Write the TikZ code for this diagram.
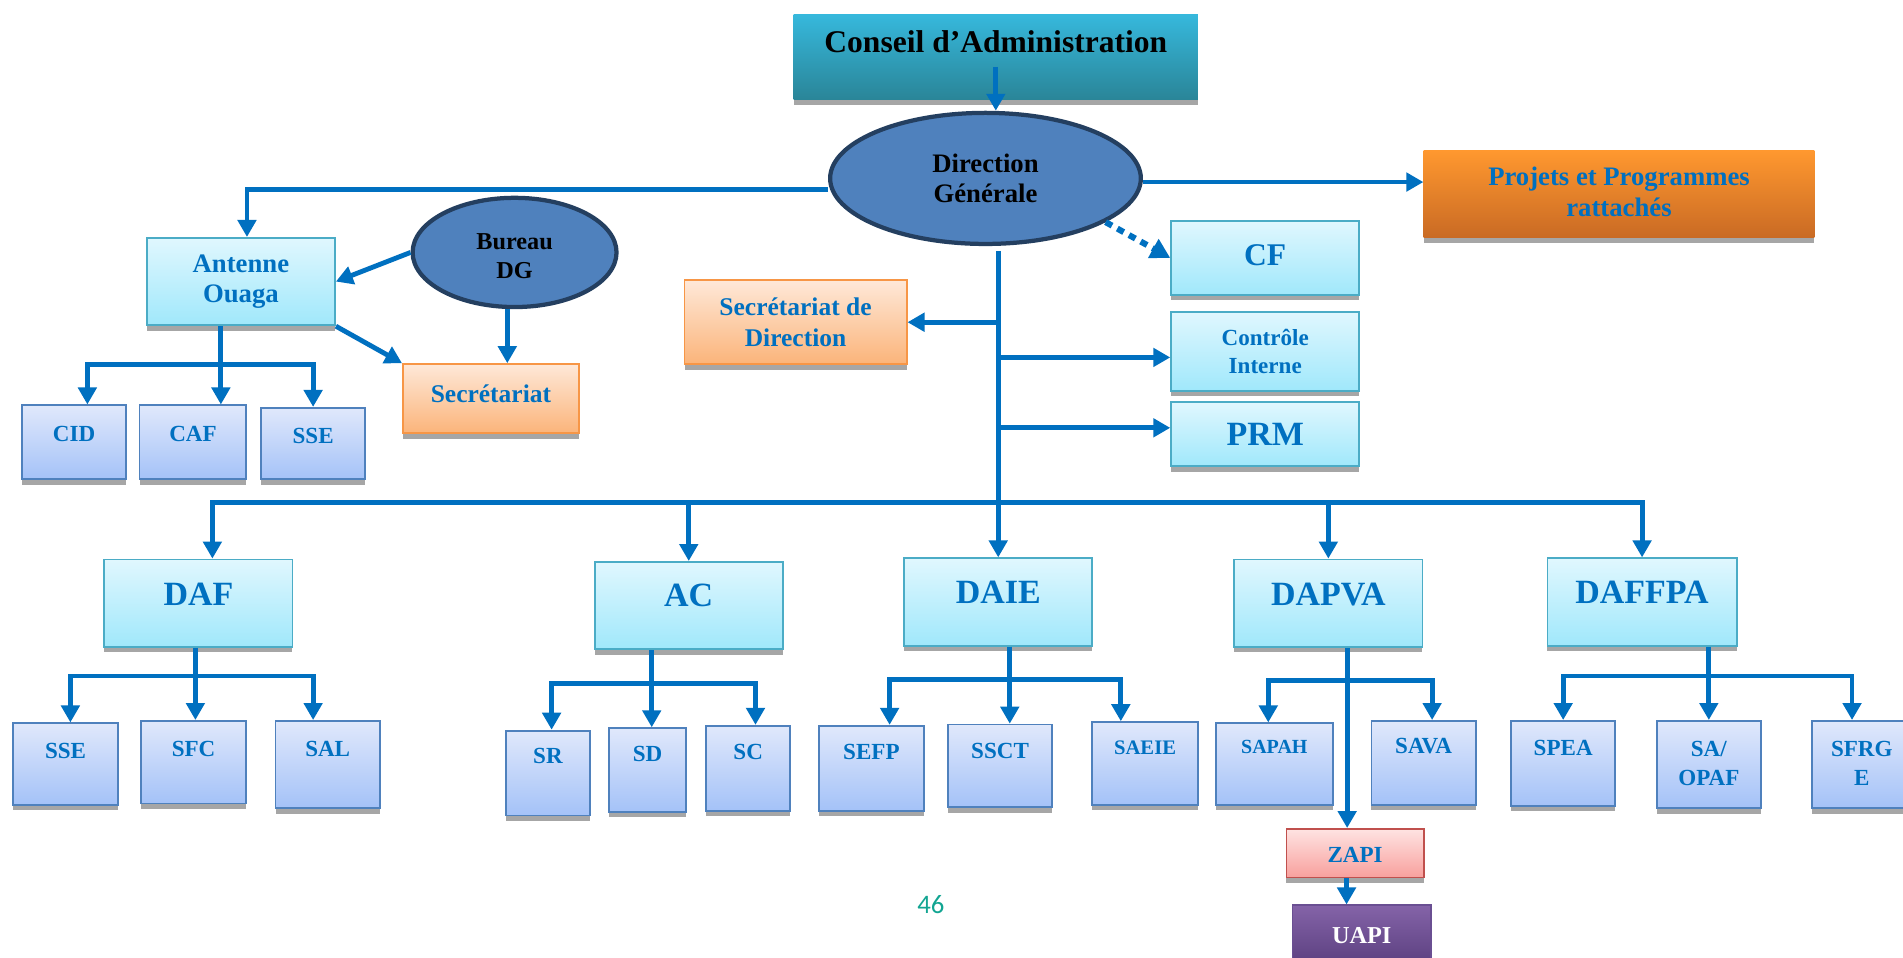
\documentclass[tikz,border=0pt]{standalone}
\usepackage{fontspec}
\setmainfont{Liberation Serif}
\newfontfamily\pgnumfont{Carlito}
\usetikzlibrary{arrows.meta,shadows,shapes.geometric,calc}
\definecolor{lb}{HTML}{0070C0}
\definecolor{shgray}{HTML}{A6A6A6}
\definecolor{cyanB}{HTML}{4BACC6}
\definecolor{cyanT}{HTML}{E0F7FE}
\definecolor{cyanD}{HTML}{A0E8FB}
\definecolor{blueB}{HTML}{4F81BD}
\definecolor{blueT}{HTML}{E0E8FB}
\definecolor{blueD}{HTML}{A4C2F8}
\definecolor{orB}{HTML}{F79646}
\definecolor{orT}{HTML}{FEE8D8}
\definecolor{orD}{HTML}{FBB47A}
\definecolor{redB}{HTML}{C0504D}
\definecolor{redT}{HTML}{FEE3E2}
\definecolor{redD}{HTML}{F8A09D}
\definecolor{purT}{HTML}{8463A8}
\definecolor{purD}{HTML}{5E4282}
\definecolor{purB}{HTML}{6A4F92}
\definecolor{tealT}{HTML}{36B8DC}
\definecolor{tealD}{HTML}{2A8598}
\definecolor{projT}{HTML}{FF982F}
\definecolor{projD}{HTML}{C96A24}
\definecolor{ovF}{HTML}{4F81BD}
\definecolor{ovB}{HTML}{243F60}
\definecolor{numcol}{HTML}{12A592}

\newcommand\bx[9]{%
  \node[#1, minimum width={(#5-#3)*1pt}, minimum height={(#6-#4)*1pt}] (#2) at ({(#3+#5)/2},{(#4+#6)/2}) {};
  \node[txt,#8] (#2-t) at ([yshift=#7pt]#2.center) {#9};}

\begin{document}
\begin{tikzpicture}[x=1pt,y=-1pt,
  ln/.style={draw=lb, line width=4pt},
  arr/.style={ln, -{Triangle[length=14pt,width=15pt]}},
  dotarr/.style={draw=lb, line width=5pt, dash pattern=on 6pt off 5pt, -{Triangle[length=16pt,width=17pt]}},
  shd/.style={general shadow={fill=shgray, shadow yshift=-4.5pt}},
  boxbase/.style={shd, line width=1.5pt, inner sep=0pt},
  cyanbox/.style={boxbase, draw=cyanB, top color=cyanT, bottom color=cyanD},
  bluebox/.style={boxbase, draw=blueB, top color=blueT, bottom color=blueD},
  orbox/.style={boxbase, draw=orB, top color=orT, bottom color=orD},
  redbox/.style={boxbase, draw=redB, top color=redT, bottom color=redD},
  purbox/.style={boxbase, draw=purB, top color=purT, bottom color=purD},
  tealbox/.style={shd, inner sep=0pt, top color=tealT, bottom color=tealD},
  projbox/.style={shd, inner sep=0pt, top color=projT, bottom color=projD},
  oval/.style={ellipse, draw=ovB, fill=ovF, line width=3.5pt, inner sep=0pt},
  txt/.style={text=lb, align=center, inner sep=0pt},
  fz/.style 2 args={font=\bfseries\fontsize{#1}{#2}\selectfont},
]
\fill[white] (0,0) rectangle (1568,789);
\useasboundingbox (0,0) rectangle (1568,789);

\bx{tealbox}{ca}{654}{12}{987}{82}{13}{fz={26}{28}, text=black}{Conseil d’Administration}
\bx{oval}{dg}{684}{93}{940}{201}{0}{fz={22}{25}, text=black}{Direction\\Générale}
\bx{projbox}{proj}{1173}{124}{1495}{196}{2}{fz={22}{25}}{Projets et Programmes\\rattachés}
\bx{cyanbox}{cf}{965}{182}{1120}{243}{2}{fz={26}{28}}{CF}
\bx{cyanbox}{ctrl}{965}{257}{1120}{322}{0}{fz={19}{23}}{Contrôle\\Interne}
\bx{cyanbox}{prm}{965}{331}{1120}{384}{0}{fz={28}{30}}{PRM}
\bx{orbox}{secdir}{564}{231}{747}{300}{0}{fz={21}{25}}{Secrétariat de\\Direction}
\bx{oval}{bur}{340}{163}{508}{253}{-3}{fz={20}{24}, text=black}{Bureau\\DG}
\bx{cyanbox}{ant}{121}{196}{276}{268}{0}{fz={22}{25}}{Antenne\\Ouaga}
\bx{orbox}{sec}{332}{300}{477}{357}{4}{fz={21}{24}}{Secrétariat}
\bx{bluebox}{cid}{18}{334}{104}{395}{7}{fz={19}{22}}{CID}
\bx{bluebox}{caf}{115}{334}{203}{395}{7}{fz={19}{22}}{CAF}
\bx{bluebox}{ssea}{215}{336}{301}{395}{6}{fz={19}{22}}{SSE}
\bx{cyanbox}{daf}{86}{461}{241}{533}{7}{fz={28}{30}}{DAF}
\bx{cyanbox}{ac}{490}{463}{645}{535}{8}{fz={28}{30}}{AC}
\bx{cyanbox}{daie}{745}{460}{900}{532}{8}{fz={28}{30}}{DAIE}
\bx{cyanbox}{dapva}{1017}{461}{1172}{533}{7}{fz={28}{30}}{DAPVA}
\bx{cyanbox}{daffpa}{1275}{460}{1431}{532}{8}{fz={28}{30}}{DAFFPA}
\bx{bluebox}{sse}{11}{596}{97}{663}{11}{fz={19}{22}}{SSE}
\bx{bluebox}{sfc}{116}{594}{203}{662}{11}{fz={19}{22}}{SFC}
\bx{bluebox}{sal}{227}{594}{313}{666}{13}{fz={19}{22}}{SAL}
\bx{bluebox}{sr}{417}{602}{486}{672}{14}{fz={19}{22}}{SR}
\bx{bluebox}{sd}{502}{600}{565}{669}{13}{fz={19}{22}}{SD}
\bx{bluebox}{sc}{582}{598}{651}{668}{13}{fz={19}{22}}{SC}
\bx{bluebox}{sefp}{675}{598}{761}{668}{13}{fz={19}{22}}{SEFP}
\bx{bluebox}{ssct}{781}{597}{867}{665}{12}{fz={19}{22}}{SSCT}
\bx{bluebox}{saeie}{900}{595}{987}{663}{13}{fz={17}{20}}{SAEIE}
\bx{bluebox}{sapah}{1002}{596}{1098}{663}{14}{fz={16.5}{20}}{SAPAH}
\bx{bluebox}{sava}{1130}{594}{1216}{663}{14}{fz={19}{22}}{SAVA}
\bx{bluebox}{spea}{1245}{594}{1331}{664}{13}{fz={19}{22}}{SPEA}
\bx{bluebox}{saopaf}{1365}{594}{1451}{666}{1}{fz={19}{24}}{SA/\\OPAF}
\bx{bluebox}{sfrge}{1493}{594}{1575}{666}{1}{fz={19}{24}}{SFRG\\E}
\bx{redbox}{zapi}{1060}{683}{1173}{723}{-1}{fz={19}{22}}{ZAPI}
\bx{purbox}{uapi}{1065}{746}{1179}{792}{-2}{fz={20}{22}, text=white}{UAPI}

\node[font=\pgnumfont\fontsize{22}{24}\selectfont, text=numcol, inner sep=0pt] (pg) at (767,745) {46};

% top connectors
\draw[arr] ($(ca.south)+(0,-27)$) -- (ca.south |- dg.north);
\draw[arr] ($(dg.west)+(0,9)$) -| ($(ant.north)+(5,0)$);
\draw[arr] ($(dg.east)+(0,3)$) -- ($(dg.east -| proj.west)+(0,3)$);
\draw[dotarr] (dg.-20) -- (cf.west);
\draw[arr] ($(dg.south -| daie.north)+(0,4)$) -- (daie.north);
\draw[arr] (daie.north |- secdir.east) -- (secdir.east);
\draw[arr] ($(daie.north |- ctrl.west)+(0,5)$) -- ($(ctrl.west)+(0,5)$);
\draw[arr] ($(daie.north |- prm.west)+(0,-5)$) -- ($(prm.west)+(0,-5)$);

% bus
\coordinate (busl) at (175,414);
\draw[arr] (daie.north |- busl) -- (busl) -- (busl |- daf.north);
\draw[arr] (daie.north |- busl) -- (daffpa.north |- busl) -- (daffpa.north);
\draw[arr] (ac.north |- busl) -- (ac.north);
\draw[arr] (dapva.north |- busl) -- (dapva.north);

% bureau / antenne
\draw[arr] (bur.west) -- (ant.east);
\draw[arr] ($(bur.south)+(-6,0)$) -- ($(bur.south |- sec.north)+(-6,0)$);
\draw[arr] (ant.south east) -- (sec.north west);
\coordinate (antbar) at (182,300);
\draw[arr] (antbar |- ant.south) -- (antbar |- caf.north);
\draw[arr] (antbar) -| ($(cid.north)+(11,0)$);
\draw[arr] (antbar) -| (ssea.north);

% DAF
\coordinate (dafbar) at (161,557);
\draw[arr] (dafbar |- daf.south) -- (dafbar |- sfc.north);
\draw[arr] (dafbar) -| ($(sse.north)+(4,0)$);
\draw[arr] (dafbar) -| ($(sal.north)+(-12,0)$);

% AC
\coordinate (acbar) at (537,563);
\draw[arr] (acbar |- ac.south) -- (acbar |- sd.north);
\draw[arr] (acbar) -| ($(sr.north)+(3,0)$);
\draw[arr] (acbar) -| ($(sc.north)+(6,0)$);

% DAIE
\coordinate (daiebar) at (832,560);
\draw[arr] (daiebar |- daie.south) -- (daiebar |- ssct.north);
\draw[arr] (daiebar) -| ($(sefp.north)+(15,0)$);
\draw[arr] (daiebar) -| ($(saeie.north)+(-20,0)$);

% DAPVA
\coordinate (dapbar) at (1110,561);
\draw[arr] (dapbar |- dapva.south) -- (dapbar |- zapi.north);
\draw[arr] (dapbar) -| ($(sapah.north)+(-5,0)$);
\draw[arr] (dapbar) -| ($(sava.north)+(7,0)$);
\draw[arr] ($(zapi.south)+(-7,0)$) -- ($(zapi.south |- uapi.north)+(-7,0)$);

% DAFFPA
\coordinate (daffbar) at (1408,557);
\draw[arr] (daffbar |- daffpa.south) -- (daffbar |- saopaf.north);
\draw[arr] (daffbar) -| (spea.north);
\draw[arr] (daffbar) -| ($(sfrge.north)+(-8,0)$);
\end{tikzpicture}
\end{document}
